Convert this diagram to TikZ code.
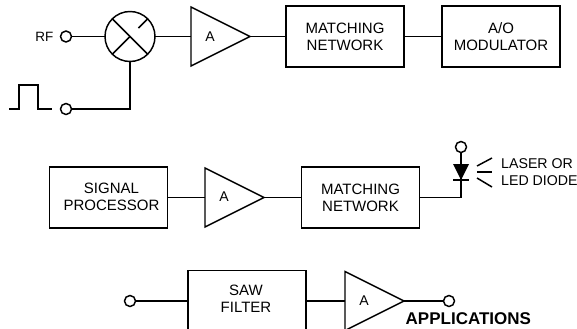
\documentclass[tikz,border=0pt]{standalone}
\usepackage{fontspec}
\setmainfont{Liberation Sans}
\usetikzlibrary{shapes.geometric,calc}
\tikzset{
  blockbox/.style={draw,rectangle,minimum width=3.54cm,minimum height=1.83cm,inner sep=0pt,outer sep=0pt,align=center,
    font=\fontsize{12.8pt}{14.6pt}\selectfont},
  amp/.style={draw,isosceles triangle,isosceles triangle stretches,shape border rotate=0,
    minimum width=1.77cm,minimum height=1.77cm,inner sep=0pt,outer sep=0pt,anchor=lower side},
  ampname/.style={font=\fontsize{12pt}{14.6pt}\selectfont,inner sep=0pt},
  terminal/.style={draw,circle,minimum size=0.33cm,inner sep=0pt,outer sep=0pt},
  mixer/.style={draw,circle,minimum size=1.5cm,inner sep=0pt,outer sep=0pt},
  plaintext/.style={font=\fontsize{12pt}{14.6pt}\selectfont,inner sep=0pt,align=left}
}
\begin{document}
\begin{tikzpicture}[x=0.03cm,y=-0.03cm,line width=1.25pt]
  \useasboundingbox (0,0) rectangle (577,328);
  \clip (0,0) rectangle (577,328);

  % Top row
  \node[plaintext,anchor=east,font=\fontsize{11.5pt}{14pt}\selectfont] (rflabel) at (54,36.5) {RF};
  \node[terminal] (rfin) at (66,36.5) {};
  \node[mixer] (mix) at (130,36.5) {};
  \node[terminal] (pulsein) at (66,109) {};
  \node[amp] (amp1) at (191,36.5) {};
  \node[ampname] (amp1name) at (210,37) {A};
  \node[blockbox] (match1) at (345,36.5) {MATCHING\\NETWORK};
  \node[blockbox] (modulator) at (501,36.5) {A/O\\MODULATOR};
  \draw (rfin) -- (mix);
  \draw (mix.east) -- (amp1.lower side);
  \draw (amp1.apex) -- (match1);
  \draw (match1) -- (modulator);
  \draw (mix.south) |- (pulsein);
  % Mixer cross
  \draw (mix.135) -- (mix.-45);
  \draw (mix.-135) -- (mix.center);
  \draw ($(mix.center)!0.48!(mix.45)$) -- (mix.45);
  % Pulse
  \draw (9,109) -- (19,109) -- (19,85) -- (38,85) -- (38,109) -- (52,109);

  % Middle row
  \node[blockbox] (processor) at (108.5,197.5) {};
  \node[plaintext,align=center,font=\fontsize{12.8pt}{14.6pt}\selectfont] (processorname) at (111.5,197) {SIGNAL\\PROCESSOR};
  \node[amp] (amp2) at (205,197.5) {};
  \node[ampname] (amp2name) at (224,197) {A};
  \node[blockbox] (match2) at (360.5,197.5) {MATCHING\\NETWORK};
  \node[terminal] (diodetop) at (461,147) {};
  \coordinate (cathode) at (461,180);
  \draw (processor) -- (amp2.lower side);
  \draw (amp2.apex) -- (match2);
  \draw (match2.east) -| (cathode);
  \draw (cathode) -- (diodetop);
  % Diode
  \fill (453,164) -- (469,164) -- (461,180) -- cycle;
  \draw (453,180) -- (469,180);
  % Light
  \draw (477,166) -- (492,158);
  \draw (477,172) -- (492,172);
  \draw (477,178) -- (492,187);
  \node[plaintext,anchor=west,font=\fontsize{12.1pt}{14.6pt}\selectfont] (diodelabel) at (500.5,172) {LASER OR\\LED DIODE};

  % Bottom row
  \node[terminal] (sawin) at (130,301) {};
  \node[blockbox] (saw) at (247,301) {};
  \node[plaintext,align=center,font=\fontsize{12.8pt}{14.6pt}\selectfont] (sawname) at (246,299) {SAW\\FILTER};
  \node[amp] (amp3) at (345,301) {};
  \node[ampname] (amp3name) at (364,301) {A};
  \node[terminal] (sawout) at (449,301) {};
  \draw (sawin) -- (saw);
  \draw (saw) -- (amp3.lower side);
  \draw (amp3.apex) -- (sawout);
  \node[font=\fontsize{14.5pt}{16pt}\selectfont\bfseries,anchor=base west,inner sep=0pt] (caption) at (405,324) {APPLICATIONS};
\end{tikzpicture}
\end{document}
